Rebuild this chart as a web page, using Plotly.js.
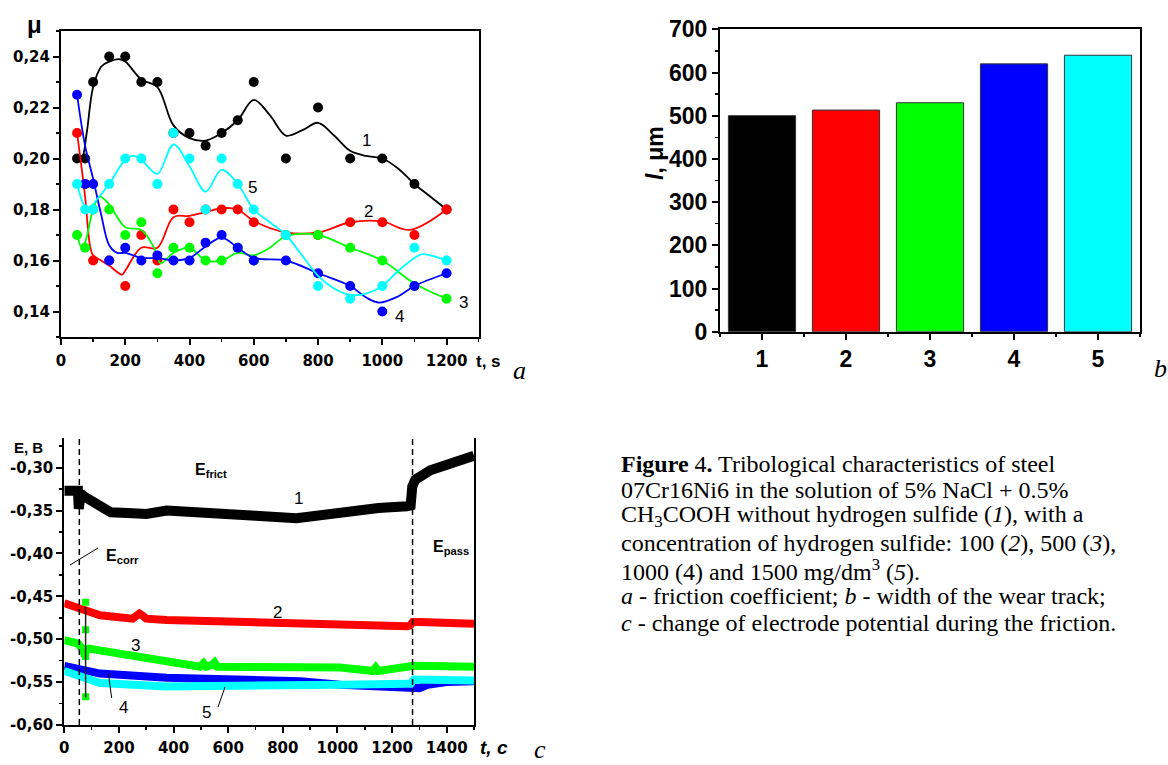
<!DOCTYPE html>
<html><head><meta charset="utf-8">
<script src="https://cdn.plot.ly/plotly-3.0.1.min.js"></script>
<style>html,body{margin:0;padding:0;background:#fff}#chart{width:1168px;height:765px}</style>
</head><body><div id="chart"></div>
<script>
// ---------- Panel a: friction coefficient ----------
const tPoints = [50,75,100,150,200,250,300,350,400,450,500,550,600,700,800,900,1000,1100,1200];
const mu1 = [0.20,0.20,0.23,0.24,0.24,0.23,0.23,0.21,0.21,0.205,0.21,0.215,0.23,0.20,0.22,0.20,0.20,0.19,0.18];
const mu2 = [0.21,0.19,0.16,0.16,0.15,0.17,0.16,0.18,0.175,0.18,0.18,0.18,0.175,0.17,0.17,0.175,0.175,0.17,0.18];
const mu3 = [0.17,0.165,0.18,0.18,0.17,0.175,0.155,0.165,0.165,0.16,0.16,0.165,0.16,0.17,0.17,0.165,0.16,0.15,0.145];
const mu4 = [0.225,0.19,0.19,0.16,0.165,0.16,0.162,0.16,0.16,0.167,0.17,0.165,0.16,0.16,0.155,0.15,0.14,0.15,0.155];
const mu5 = [0.19,0.18,0.18,0.19,0.20,0.20,0.19,0.21,0.20,0.18,0.20,0.19,0.18,0.17,0.15,0.145,0.15,0.165,0.16];

// smoothed curves
const fit1X = [50,65,80,100,125,150,180,200,250,300,350,400,450,500,550,600,650,700,750,800,850,900,950,1000,1050,1100,1150,1200];
const fit1Y = [0.199,0.200,0.210,0.228,0.236,0.238,0.239,0.238,0.231,0.228,0.213,0.208,0.207,0.210,0.215,0.223,0.217,0.209,0.211,0.214,0.209,0.203,0.201,0.200,0.196,0.190,0.185,0.180];
const fit2X = [50,75,90,100,125,150,190,200,250,300,350,400,450,500,550,600,700,800,900,1000,1085,1200];
const fit2Y = [0.210,0.185,0.166,0.162,0.160,0.158,0.1545,0.156,0.165,0.165,0.177,0.1775,0.179,0.1805,0.180,0.1755,0.171,0.171,0.175,0.1753,0.172,0.180];
const fit3X = [50,65,75,100,120,150,200,250,290,310,350,400,450,500,550,600,650,700,800,900,1000,1100,1200];
const fit3Y = [0.170,0.165,0.167,0.180,0.185,0.182,0.173,0.172,0.165,0.159,0.163,0.165,0.160,0.160,0.163,0.162,0.165,0.1695,0.170,0.165,0.160,0.151,0.145];
const fit4X = [50,75,100,125,150,175,200,250,300,350,400,450,500,550,600,700,800,900,950,990,1050,1100,1200];
const fit4Y = [0.225,0.205,0.192,0.178,0.166,0.163,0.163,0.161,0.161,0.160,0.161,0.1655,0.169,0.165,0.161,0.160,0.155,0.150,0.1455,0.1435,0.146,0.150,0.155];
const fit5X = [50,75,90,100,150,200,225,250,300,350,400,450,500,550,600,650,700,750,800,850,900,950,1000,1050,1100,1125,1150,1200];
const fit5Y = [0.190,0.181,0.180,0.182,0.190,0.1995,0.201,0.1995,0.194,0.2055,0.197,0.187,0.1955,0.190,0.180,0.175,0.170,0.162,0.154,0.149,0.1465,0.147,0.150,0.156,0.161,0.1625,0.162,0.160];

// ---------- Panel b: wear track width ----------
const barCategories = [1,2,3,4,5];
const wearWidth = [500,513,530,620,640];

// ---------- Panel c: electrode potential ----------
const tc1 = [0,50,53,56,60,70,100,131,170,250,300,375,450,565,700,850,1010,1150,1255,1268,1274,1285,1340,1400,1450,1500];
const ec1 = [-0.327,-0.327,-0.348,-0.333,-0.330,-0.333,-0.338,-0.344,-0.352,-0.353,-0.354,-0.350,-0.352,-0.353,-0.356,-0.359,-0.352,-0.347,-0.345,-0.344,-0.322,-0.314,-0.303,-0.296,-0.291,-0.286];
const tc2 = [0,55,131,250,268,275,285,300,375,600,864,1010,1254,1266,1276,1300,1500];
const ec2 = [-0.458,-0.464,-0.472,-0.476,-0.471,-0.470,-0.472,-0.476,-0.4775,-0.480,-0.4815,-0.4835,-0.485,-0.484,-0.480,-0.480,-0.482];
const tc3 = [0,50,60,70,75,80,90,131,278,400,497,510,520,540,550,560,700,864,1010,1130,1140,1150,1254,1280,1500];
const ec3 = [-0.501,-0.505,-0.509,-0.512,-0.520,-0.513,-0.511,-0.513,-0.522,-0.528,-0.532,-0.528,-0.532,-0.530,-0.527,-0.532,-0.533,-0.534,-0.533,-0.537,-0.533,-0.537,-0.533,-0.531,-0.532];
const tc3Spikes = [78,78,78,78];
const ec3Spikes = [-0.457,-0.489,-0.520,-0.567];
const tc4 = [0,55,131,375,600,864,1010,1254,1270,1300,1330,1400,1500];
const ec4 = [-0.531,-0.535,-0.540,-0.545,-0.547,-0.549,-0.553,-0.556,-0.556,-0.557,-0.553,-0.550,-0.549];
const tc5 = [0,55,131,375,600,864,1010,1254,1268,1280,1500];
const ec5 = [-0.537,-0.542,-0.551,-0.555,-0.555,-0.554,-0.553,-0.552,-0.552,-0.547,-0.548];
const phaseBoundaries = [55,1275];
const cTickVals = [-0.60,-0.55,-0.50,-0.45,-0.40,-0.35,-0.30];
const cTickText = ['-0,60','-0,55','-0,50','-0,45','-0,40','-0,35','-0,30'];

const seriesColors = ['#000000','#ff0000','#00ff00','#0000ff','#00ffff'];

// ---------- helpers ----------
const W = 1168, H = 765;
const fx = x => x / W;
const fy = y => 1 - y / H;
const tickFontAC = {family:'DejaVu Sans, Arial', size:15, color:'#000', weight:'bold'};
const tickFontB = {family:'Liberation Sans, Arial', size:23, color:'#000', weight:'bold'};
const lblFont = {family:'Liberation Sans, Arial', size:17, color:'#000'};

const traces = [];
const fitsX = [fit1X,fit2X,fit3X,fit4X,fit5X];
const fitsY = [fit1Y,fit2Y,fit3Y,fit4Y,fit5Y];
const muS = [mu1,mu2,mu3,mu4,mu5];
for (let i = 0; i < 5; i++) {
  traces.push({type:'scatter', mode:'lines', x:fitsX[i], y:fitsY[i], xaxis:'x', yaxis:'y',
    line:{color:seriesColors[i], width:1.8, shape:'spline', smoothing:1}, hoverinfo:'skip', showlegend:false});
  traces.push({type:'scatter', mode:'markers', x:tPoints, y:muS[i], xaxis:'x', yaxis:'y',
    marker:{color:seriesColors[i], size:10, line:{width:0}}, showlegend:false});
}
traces.push({type:'bar', x:barCategories, y:wearWidth, xaxis:'x2', yaxis:'y2', width:0.8,
  marker:{color:seriesColors, line:{color:'#333', width:1}}, showlegend:false});

const tcS = [tc1,tc2,tc3,tc4,tc5];
const ecS = [ec1,ec2,ec3,ec4,ec5];
for (let i = 0; i < 5; i++) {
  traces.push({type:'scatter', mode:'lines', x:tcS[i], y:ecS[i], xaxis:'x3', yaxis:'y3',
    line:{color:seriesColors[i], width:i===0?10:8}, showlegend:false});
  if (i === 2) {
    traces.push({type:'scatter', mode:'markers', x:tc3Spikes, y:ec3Spikes, xaxis:'x3', yaxis:'y3',
      marker:{color:seriesColors[2], size:7, symbol:'square'}, showlegend:false});
  }
}

const axBase = {showline:true, linecolor:'#000', linewidth:2, ticks:'outside', ticklen:6, tickwidth:2,
  tickcolor:'#000', showgrid:false, zeroline:false, fixedrange:true};

const layout = {
  width:W, height:H, margin:{l:0,r:0,t:0,b:0}, paper_bgcolor:'#fff', plot_bgcolor:'#fff',
  separators:', ', showlegend:false,
  xaxis: Object.assign({}, axBase, {domain:[fx(61),fx(478.7)], range:[0,1300], anchor:'y', mirror:true,
    tick0:0, dtick:200, tickfont:tickFontAC, ticklabelstandoff:3,
    minor:{dtick:100, ticks:'outside', ticklen:3, tickwidth:1.5, tickcolor:'#000'}}),
  yaxis: Object.assign({}, axBase, {domain:[fy(337),fy(31)], range:[0.13,0.25], anchor:'x', mirror:true,
    tick0:0, dtick:0.02, tickformat:'.2f', tickfont:tickFontAC,
    minor:{dtick:0.01, ticks:'outside', ticklen:3, tickwidth:1.5, tickcolor:'#000'}}),
  xaxis2: Object.assign({}, axBase, {domain:[fx(720),fx(1140)], range:[0.5,5.5], anchor:'y2', mirror:true,
    tickmode:'array', tickvals:barCategories, ticktext:barCategories.map(String), tickfont:tickFontB,
    minor:{tickmode:'array', tickvals:[0.5,1.5,2.5,3.5,4.5,5.5], ticks:'outside', ticklen:3, tickwidth:1.5, tickcolor:'#000'}}),
  yaxis2: Object.assign({}, axBase, {domain:[fy(331.7),fy(29.3)], range:[0,700], anchor:'x2', mirror:true,
    tick0:0, dtick:100, tickfont:tickFontB,
    minor:{dtick:50, ticks:'outside', ticklen:3, tickwidth:1.5, tickcolor:'#000'}}),
  xaxis3: Object.assign({}, axBase, {domain:[fx(64.3),fx(474)], range:[0,1500], anchor:'y3', mirror:false,
    tick0:0, dtick:200, tickfont:tickFontAC, ticklabelstandoff:2,
    minor:{dtick:100, ticks:'outside', ticklen:3, tickwidth:1.5, tickcolor:'#000'}}),
  yaxis3: Object.assign({}, axBase, {domain:[fy(725),fy(438)], range:[-0.60,-0.2654], anchor:'x3', mirror:true,
    tickmode:'array', tickvals:cTickVals, ticktext:cTickText, tickfont:tickFontAC,
    minor:{dtick:0.025, tick0:0, ticks:'outside', ticklen:3, tickwidth:1.5, tickcolor:'#000'}}),
  shapes: [],
  annotations: []
};

phaseBoundaries.forEach(b => layout.shapes.push({type:'line', xref:'x3', yref:'y3 domain', x0:b, x1:b, y0:0, y1:1,
  line:{color:'#000', width:1.5, dash:'6px,4px'}}));
layout.shapes.push({type:'line', xref:'x3', yref:'y3', x0:tc3Spikes[0], x1:tc3Spikes[0], y0:-0.462, y1:-0.568,
  line:{color:'#222', width:1.5}});
// leader lines (paper coords)
[[70,565,98,548],[111.7,698,108.3,673],[218,707,225,687]].forEach(s => layout.shapes.push({type:'line', xref:'paper', yref:'paper',
  x0:fx(s[0]), y0:fy(s[1]), x1:fx(s[2]), y1:fy(s[3]), line:{color:'#000', width:1}}));

function ann(text, x, y, font, extra) {
  layout.annotations.push(Object.assign({text:text, x:fx(x), y:fy(y), xref:'paper', yref:'paper', showarrow:false,
    xanchor:'center', yanchor:'middle', font:font}, extra||{}));
}
// panel a labels
ann('<b>μ</b>', 34, 24, {family:'Liberation Sans, Arial', size:24, color:'#000'});
ann('<b>t, s</b>', 488, 361, {family:'Liberation Sans, Arial', size:17, color:'#000'});
ann('<i>a</i>', 519, 370, {family:'Liberation Serif, Times New Roman', size:26, color:'#000'});
ann('1', 366, 140, lblFont); ann('5', 252, 187, lblFont); ann('2', 368, 211, lblFont);
ann('3', 463, 303, lblFont); ann('4', 399, 316, lblFont);
// panel b labels
ann('<b><i>l</i>, μm</b>', 655, 153, {family:'Liberation Sans, Arial', size:23, color:'#000'}, {textangle:-90});
ann('<i>b</i>', 1152, 368, {family:'Liberation Serif, Times New Roman', size:26, color:'#000'}, {xanchor:'left'});
// panel c labels
ann('<b>E, B</b>', 28, 447, {family:'Liberation Sans, Arial', size:15, color:'#000'});
ann('<b><i>t, c</i></b>', 494, 747, {family:'Liberation Sans, Arial', size:19, color:'#000'});
ann('<i>c</i>', 540, 749, {family:'Liberation Serif, Times New Roman', size:26, color:'#000'});
ann('<b>E<sub>frict</sub></b>', 211, 470, {family:'Liberation Sans, Arial', size:16, color:'#000'});
ann('<b>E<sub>corr</sub></b>', 122, 556, {family:'Liberation Sans, Arial', size:16, color:'#000'});
ann('<b>E<sub>pass</sub></b>', 451, 547, {family:'Liberation Sans, Arial', size:16, color:'#000'});
ann('1', 298, 498, lblFont); ann('2', 277, 612, lblFont); ann('3', 135, 645, lblFont);
ann('4', 123, 707, lblFont); ann('5', 207, 712, lblFont);

// caption
const captionLines = [
  '<b>Figure</b> 4<b>.</b> Tribological characteristics of steel',
  '07Cr16Ni6 in the solution of 5% NaCl + 0.5%',
  'CH<sub>3</sub>COOH without hydrogen sulfide (<i>1</i>), with a',
  'concentration of hydrogen sulfide: 100 (<i>2</i>), 500 (<i>3</i>),',
  '1000 (4) and 1500 mg/dm<sup>3</sup> (<i>5</i>).',
  '<i>a</i> - friction coefficient; <i>b</i> - width of the wear track;',
  '<i>c</i> - change of electrode potential during the friction.'
];
const captionY = [464,490,516,543,570,596,623];
captionLines.forEach((t,i) => ann(t, 619, captionY[i], {family:'Liberation Serif, Times New Roman', size:24, color:'#000'}, {xanchor:'left'}));

Plotly.newPlot('chart', traces, layout, {displayModeBar:false, staticPlot:true});
</script>
</body></html>
